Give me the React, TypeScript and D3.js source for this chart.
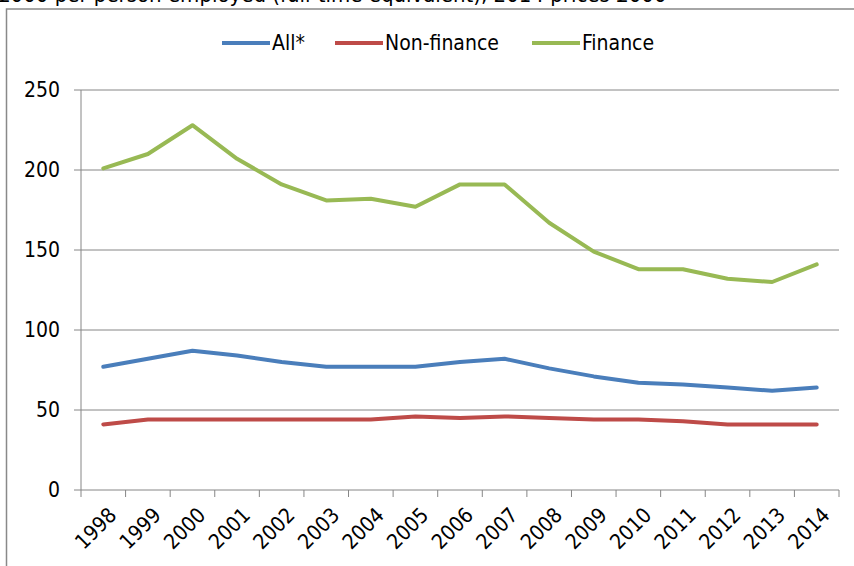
import * as d3 from "d3";

const years = [
  "1998", "1999", "2000", "2001", "2002", "2003", "2004", "2005", "2006",
  "2007", "2008", "2009", "2010", "2011", "2012", "2013", "2014"
];

const allValues = [77, 82, 87, 84, 80, 77, 77, 77, 80, 82, 76, 71, 67, 66, 64, 62, 64];
const nonFinance = [41, 44, 44, 44, 44, 44, 44, 46, 45, 46, 45, 44, 44, 43, 41, 41, 41];
const finance = [201, 210, 228, 207, 191, 181, 182, 177, 191, 191, 167, 149, 138, 138, 132, 130, 141];

const yTicks = [0, 50, 100, 150, 200, 250];

const series = [
  { name: "All*", values: allValues, color: "#4A7EBB" },
  { name: "Non-finance", values: nonFinance, color: "#BE4B48" },
  { name: "Finance", values: finance, color: "#98B954" }
];

const font = "'DejaVu Sans Condensed', 'DejaVu Sans', sans-serif";

export default function App() {
  const width = 854;
  const height = 566;
  const left = 81, right = 839, top = 90, bottom = 490;

  const x = d3.scaleBand().domain(years).range([left, right]).padding(0);
  const y = d3.scaleLinear().domain([0, 250]).range([bottom, top]);

  const line = d3.line<number>()
    .x((_, i) => x(years[i])! + x.bandwidth() / 2)
    .y(d => y(d));

  const legendX = [222, 335, 532]; // start of each legend swatch

  return (
    <svg width={width} height={height}
      style={{ position: "fixed", left: 0, top: 0, background: "#fff" }}
      fontFamily={font}>
      <rect width={width} height={height} fill="#fff" />
      {/* title, cut off at top of the picture as in the source */}
      <text x={-2} y={2} fontSize={22} fill="#000">
        £000 per person employed (full-time equivalent), 2014 prices £000
      </text>
      {/* chart frame */}
      <rect x={6.5} y={9} width={width + 10} height={height + 10}
        fill="none" stroke="#898989" strokeWidth={1.5} />

      {/* gridlines */}
      {yTicks.map(t => (
        <line key={t} x1={left - 7} x2={right} y1={y(t)} y2={y(t)}
          stroke="#868686" strokeWidth={1} />
      ))}
      {/* y axis */}
      <line x1={left} x2={left} y1={top} y2={bottom} stroke="#868686" strokeWidth={1} />
      {yTicks.map(t => (
        <text key={t} x={60} y={y(t)} dy="0.35em" textAnchor="end" fontSize={21} fill="#000">
          {t}
        </text>
      ))}
      {/* x axis ticks at category boundaries */}
      {years.map(yr => (
        <line key={yr} x1={x(yr)!} x2={x(yr)!} y1={bottom} y2={bottom + 7}
          stroke="#868686" strokeWidth={1} />
      ))}
      <line x1={right} x2={right} y1={bottom} y2={bottom + 7} stroke="#868686" strokeWidth={1} />
      {years.map(yr => {
        const cx = x(yr)! + x.bandwidth() / 2 + 4;
        const cy = bottom + 16;
        return (
          <text key={yr} transform={`translate(${cx},${cy}) rotate(-45)`}
            textAnchor="end" dy="0.7em" fontSize={21} fill="#000">
            {yr}
          </text>
        );
      })}

      {/* series */}
      {series.map(s => (
        <path key={s.name} d={line(s.values)!} fill="none" stroke={s.color}
          strokeWidth={4} strokeLinejoin="round" strokeLinecap="round" />
      ))}

      {/* legend */}
      {series.map((s, i) => (
        <g key={s.name} transform={`translate(${legendX[i]},43)`}>
          <line x1={0} x2={48} y1={0} y2={0} stroke={s.color} strokeWidth={4} />
          <text x={50} dy="0.35em" fontSize={21} fill="#000">{s.name}</text>
        </g>
      ))}
    </svg>
  );
}
